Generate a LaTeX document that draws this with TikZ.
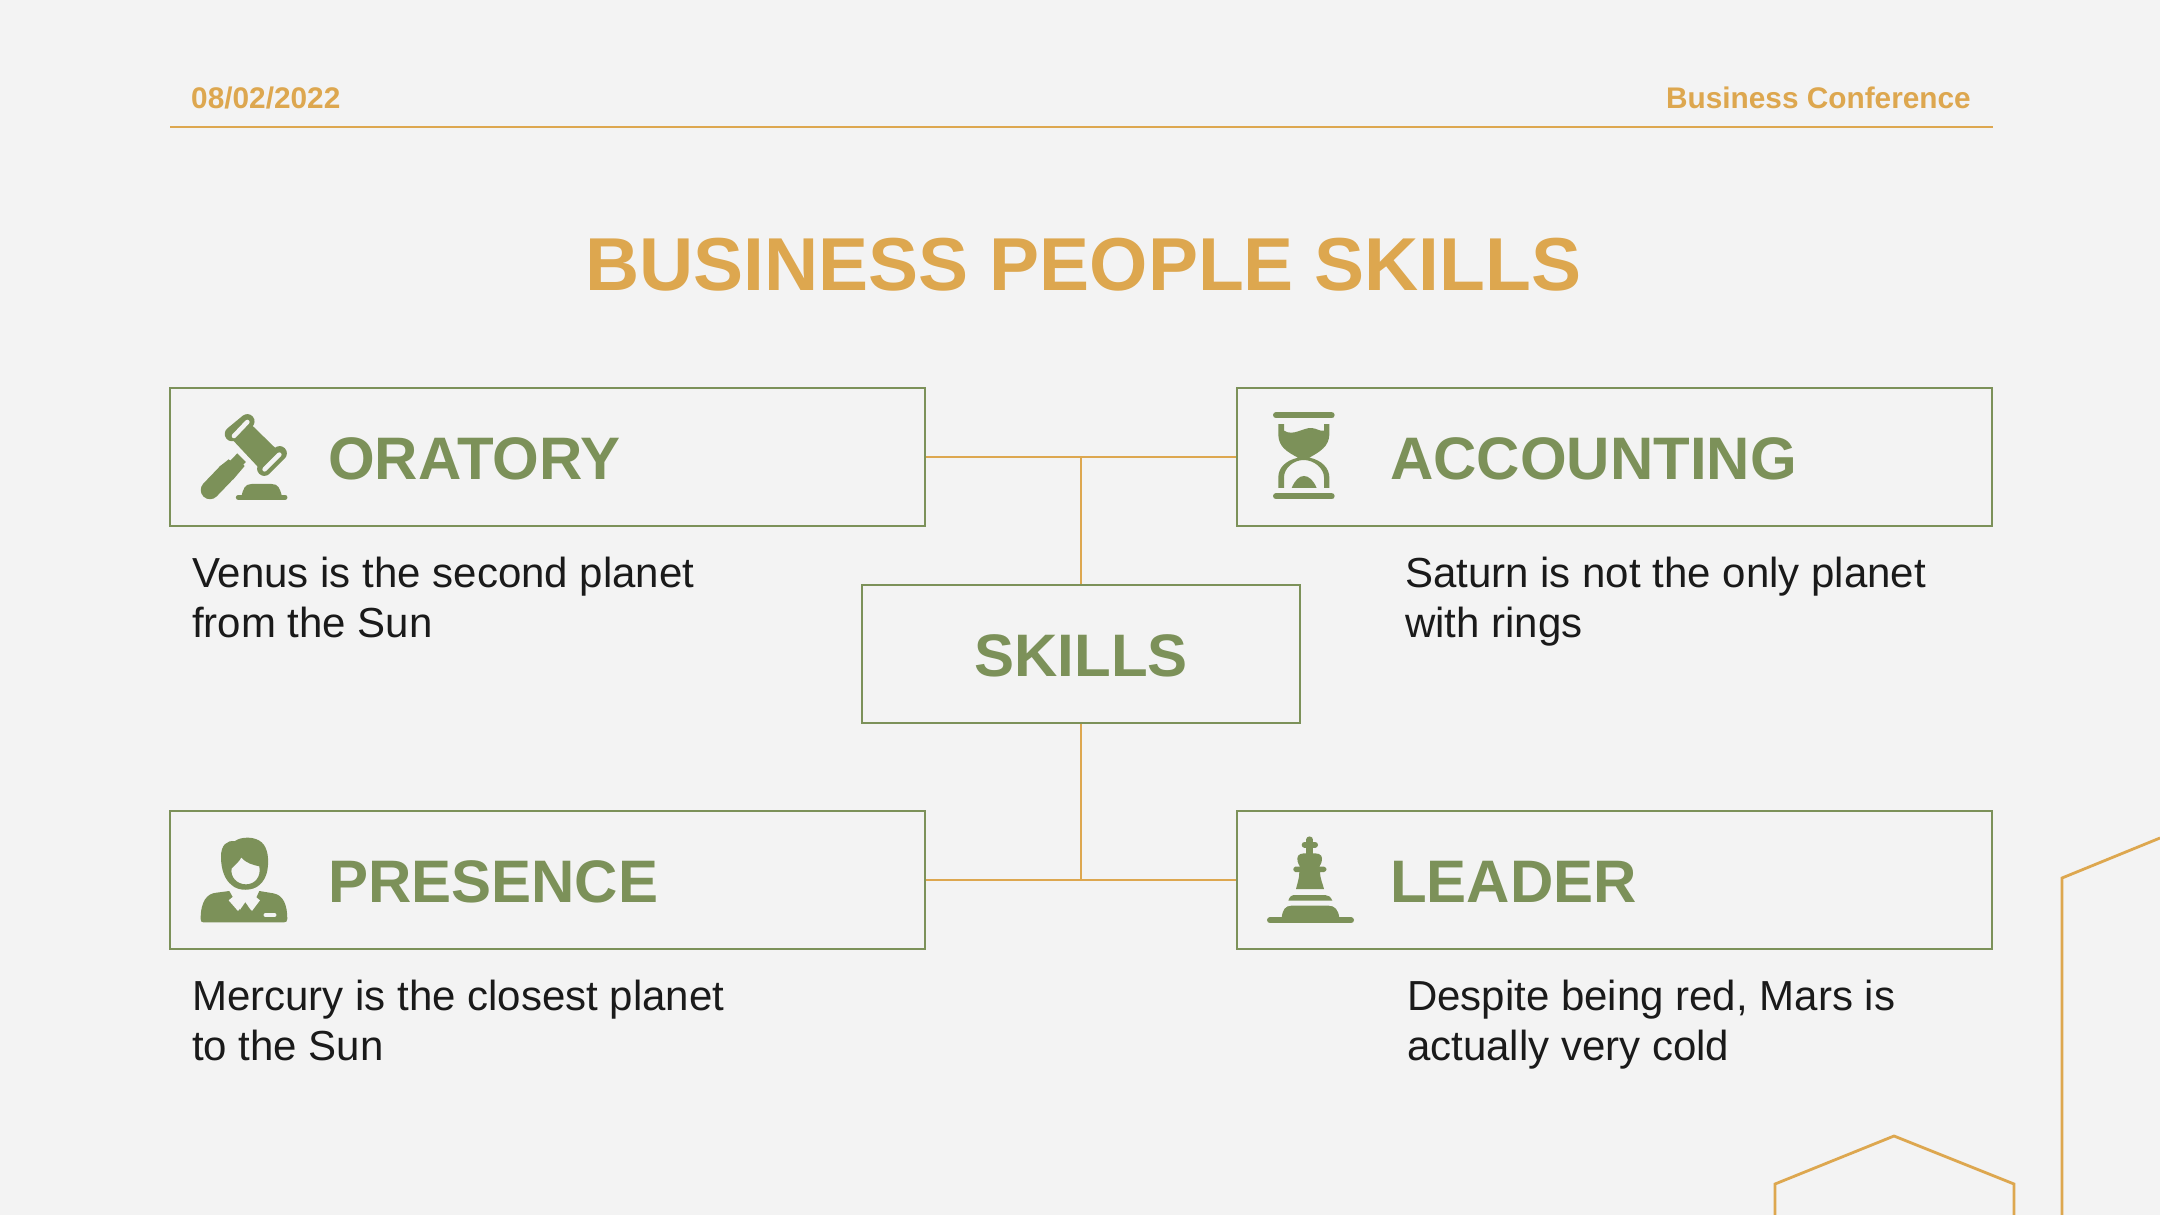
\documentclass[tikz,border=0pt]{standalone}
\usepackage{fontspec}
\setmainfont{Liberation Sans}
\definecolor{bgc}{HTML}{F3F3F3}
\definecolor{gold}{HTML}{DDA74F}
\definecolor{olive}{HTML}{7C9159}
\definecolor{ink}{HTML}{1A1A1A}
\newcommand{\fs}[1]{\fontsize{#1}{#1}\selectfont}
\tikzset{
  skillbox/.style={draw=olive,line width=2.8pt,minimum width=755pt,minimum height=138pt,inner sep=0pt},
  centerbox/.style={skillbox,minimum width=438pt},
  link/.style={draw=gold,line width=2.8pt},
  deco/.style={draw=gold,line width=2.8pt},
  head/.style={text=olive,font=\fs{60}\bfseries,anchor=base west,inner sep=0pt},
  body/.style={text=ink,font=\fs{42},anchor=base west,inner sep=0pt},
  top/.style={text=gold,font=\fs{29.8}\bfseries,inner sep=0pt},
  iconfill/.style={fill=olive,draw=none},
  iconline/.style={draw=olive,line cap=round},
  iconhole/.style={draw=bgc,line cap=round,line width=4.6pt},
}
\begin{document}
\begin{tikzpicture}[x=1pt,y=-1pt]
\useasboundingbox (0,0) rectangle (2160,1215);
\fill[bgc] (0,0) rectangle (2160,1215);
% header
\coordinate (ruleL) at (170,127);
\coordinate (ruleR) at (1993,127);
\draw[link] (ruleL) -- (ruleR);
\node[top,anchor=base west] (date) at (191,108) {08/02/2022};
\node[top,anchor=base east] (conf) at (1971,108) {Business Conference};
\node[text=gold,font=\fs{75}\bfseries,anchor=base,inner sep=0pt] (title) at (1083.5,290) {BUSINESS PEOPLE SKILLS};
% decoration
\draw[deco] (2160,838) -- (2062,878) -- (2062,1217);
\draw[deco] (1775,1217) -- (1775,1184) -- (1894,1136) -- (2014,1184) -- (2014,1217);
% boxes
\node[skillbox] (oratory) at (547.5,457) {};
\node[skillbox] (accounting) at (1614.5,457) {};
\node[skillbox] (presence) at (547.5,880) {};
\node[skillbox] (leader) at (1614.5,880) {};
\node[centerbox] (skills) at (1081,654) {};
% connectors
\coordinate (topj) at (oratory.east -| skills.north);
\coordinate (botj) at (presence.east -| skills.south);
\draw[link] (oratory.east) -- (accounting.west);
\draw[link] (presence.east) -- (leader.west);
\draw[link] (skills.north) -- (topj);
\draw[link] (skills.south) -- (botj);
% labels
\node[head] (loratory) at (328,479) {ORATORY};
\node[head] (laccounting) at (1390,479) {ACCOUNTING};
\node[head] (lpresence) at (328,902) {PRESENCE};
\node[head] (lleader) at (1390,902) {LEADER};
\node[head,anchor=base] (lskills) at (1081,676) {SKILLS};
% body
\node[body] (b1a) at (192,587) {Venus is the second planet};
\node[body] (b1b) at (192,637) {from the Sun};
\node[body] (b2a) at (1405,587) {Saturn is not the only planet};
\node[body] (b2b) at (1405,637) {with rings};
\node[body] (b3a) at (192,1010) {Mercury is the closest planet};
\node[body] (b3b) at (192,1060) {to the Sun};
\node[body] (b4a) at (1407,1010) {Despite being red, Mars is};
\node[body] (b4b) at (1407,1060) {actually very cold};
% gavel
\begin{scope}[shift={(170,390)},x=0.3333pt,y=-0.3333pt]
\fill[iconfill] (190,152) -- (240,100) -- (320,178) -- (265,232) -- cycle;
\draw[iconline,line width=14.5pt] (186,132) -- (232,94);
\draw[iconline,line width=14.5pt] (283,236) -- (329,190);
\draw[iconhole] (192,138) -- (232,96);
\draw[iconhole] (284,238) -- (328,194);
\draw[iconline,line width=18.5pt] (120,300) -- (170,248);
\fill[iconfill] (146,232) -- (176,208) -- (181,212) -- (202,190) -- (228,216) -- (220,224) -- (224,228) -- (190,268) -- cycle;
\draw[iconline,line width=5pt] (205,322) -- (345,322);
\fill[iconfill] (214,320) .. controls (220,295) and (225,282) .. (245,282) -- (305,282) .. controls (325,282) and (330,295) .. (336,320) -- cycle;
\end{scope}
% hourglass
\begin{scope}[shift={(1240,390)},x=0.3333pt,y=-0.3333pt]
\draw[iconline,line width=6pt] (108,76) -- (275,76);
\draw[iconline,line width=6pt] (108,319) -- (275,319);
\fill[iconfill] (115,102) -- (132,102) -- (132,122) .. controls (160,140) and (190,112) .. (215,114) .. controls (230,115) and (240,125) .. (252,122) -- (252,102) -- (268,102) -- (268,135) .. controls (266,170) and (240,185) .. (208,203)
  .. controls (245,210) and (268,235) .. (268,262) -- (268,294) -- (252,294) -- (252,262) .. controls (252,235) and (222,210) .. (191,210) .. controls (160,210) and (132,235) .. (132,262) -- (132,294) -- (115,294) -- (115,262) .. controls (115,235) and (135,212) .. (174,203)
  .. controls (140,185) and (116,170) .. (115,135) -- cycle;
\fill[iconfill] (155,294) .. controls (165,270) and (178,258) .. (192,258) .. controls (206,258) and (220,270) .. (230,294) -- cycle;
\end{scope}
% person
\begin{scope}[shift={(170,815)},x=0.3333pt,y=-0.3333pt]
\fill[iconfill,even odd rule] (153,125) .. controls (153,90) and (170,76) .. (195,78) .. controls (215,64) and (255,64) .. (275,82) .. controls (293,98) and (297,130) .. (293,160) .. controls (290,185) and (280,200) .. (268,210) .. controls (250,228) and (205,230) .. (185,210) .. controls (165,195) and (153,165) .. (153,125) -- cycle
  (185,160) .. controls (195,150) and (208,140) .. (214,127) .. controls (228,145) and (250,150) .. (268,154) .. controls (274,185) and (255,208) .. (228,208) .. controls (200,208) and (180,185) .. (185,160) -- cycle;
\fill[iconfill] (92,312) .. controls (92,260) and (110,235) .. (140,233) -- (178,228) -- (210,285) -- (226,262) -- (242,285) -- (268,228) -- (310,235) .. controls (340,240) and (352,270) .. (352,312) .. controls (352,320) and (348,322) .. (342,322) -- (100,322) .. controls (95,322) and (92,320) .. (92,312) -- cycle;
\fill[bgc] (188,246) -- (196,248) -- (218,270) -- (204,288) -- (176,256) -- cycle;
\fill[bgc] (258,246) -- (270,256) -- (246,288) -- (235,272) -- cycle;
\draw[iconhole,line width=3.6pt] (286,300) -- (314,300);
\end{scope}
% chess king
\begin{scope}[shift={(1240,815)},x=0.3333pt,y=-0.3333pt]
\draw[iconline,line width=6.5pt] (209,74) -- (209,116);
\draw[iconline,line width=6pt] (194,89) -- (225,89);
\fill[iconfill] (172,130) .. controls (172,118) and (185,112) .. (209,116) .. controls (233,112) and (246,118) .. (246,130) .. controls (246,145) and (240,150) .. (238,155) -- (252,155) .. controls (262,158) and (262,168) .. (252,171) -- (240,171) .. controls (240,190) and (248,205) .. (252,222) -- (168,222) .. controls (172,205) and (178,190) .. (178,171) -- (166,171) .. controls (158,168) and (158,158) .. (166,155) -- (180,155) .. controls (178,150) and (172,145) .. (172,130) -- cycle;
\fill[iconfill] (145,257) .. controls (148,245) and (155,240) .. (165,240) -- (255,240) .. controls (265,240) and (272,245) .. (277,257) -- cycle;
\fill[iconfill] (125,308) .. controls (128,285) and (135,272) .. (155,272) -- (265,272) .. controls (285,272) and (295,285) .. (298,308) -- cycle;
\draw[iconline,line width=6pt] (90,316) -- (333,316);
\end{scope}
\end{tikzpicture}
\end{document}
